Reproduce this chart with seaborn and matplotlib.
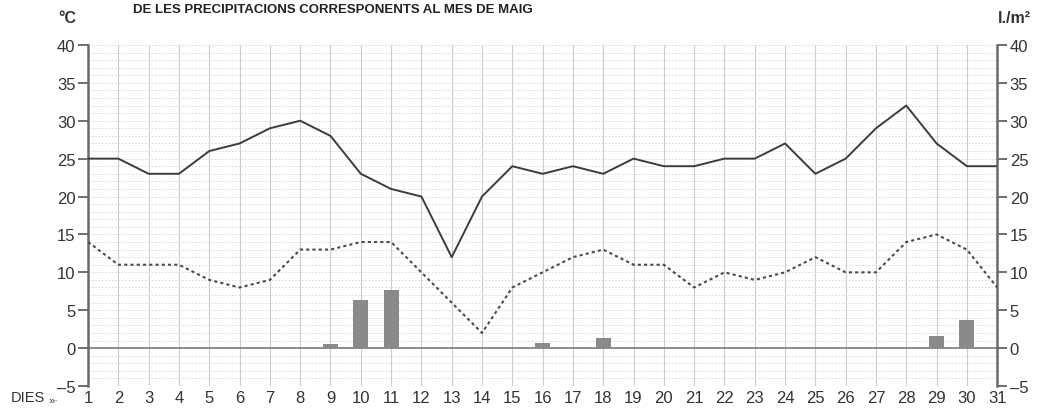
import numpy as np
import pandas as pd
import seaborn as sns
import matplotlib.pyplot as plt

# dades del mes de maig
dies = list(range(1, 32))
temp_max = [25, 25, 23, 23, 26, 27, 29, 30, 28, 23, 21, 20, 12, 20, 24, 23,
            24, 23, 25, 24, 24, 25, 25, 27, 23, 25, 29, 32, 27, 24, 24]
temp_min = [14, 11, 11, 11, 9, 8, 9, 13, 13, 14, 14, 10, 6, 2, 8, 10,
            12, 13, 11, 11, 8, 10, 9, 10, 12, 10, 10, 14, 15, 13, 8]
precip = [0, 0, 0, 0, 0, 0, 0, 0, 0.5, 6.4, 7.7, 0, 0, 0, 0, 0.7,
          0, 1.3, 0, 0, 0, 0, 0, 0, 0, 0, 0, 0, 1.6, 3.7, 0]
y_ticks = list(range(-5, 41, 5))

df = pd.DataFrame({'dia': dies, 'max': temp_max, 'min': temp_min, 'pluja': precip})

sns.set_style('white')
plt.rcParams['font.family'] = ['Liberation Sans', 'DejaVu Sans']

fig = plt.figure(figsize=(10.42, 4.10), dpi=100)
ax = fig.add_axes([0.0845, 0.056, 0.8725, 0.832])

# graella
for d in dies:
    ax.axvline(d, color='#cccccc', lw=0.8, zorder=0)
for v in range(-5, 41):
    ax.axhline(v, color='#d4d4d4', lw=0.6, ls=(0, (2, 2)), zorder=0)
ax.axhline(0, color='#7a7a7a', lw=1.2, zorder=1)

sns.barplot(data=df, x='dia', y='pluja', native_scale=True, width=0.5,
            color='#8a8a8a', saturation=1, linewidth=0, ax=ax, zorder=2)
sns.lineplot(data=df, x='dia', y='max', color='#3c3c3c', lw=1.4, ax=ax, zorder=3)
sns.lineplot(data=df, x='dia', y='min', color='#4a4a4a', lw=1.5,
             linestyle=(0, (1.5, 1.5)), ax=ax, zorder=3)

ax.set_xlim(1, 31)
ax.set_ylim(-5, 40)
ax.set_xticks(dies)
ax.set_xticklabels([str(d) for d in dies])
ax.set_yticks(y_ticks)
ax.set_yticklabels([str(v).replace('-', '\u2013') for v in y_ticks])
ax.set_xlabel('')
ax.set_ylabel('')

for s in ['top', 'bottom']:
    ax.spines[s].set_visible(False)
for s in ['left', 'right']:
    ax.spines[s].set_color('#6a6a6a')
    ax.spines[s].set_linewidth(1.8)

ax.tick_params(axis='x', length=0, pad=3, labelsize=12, colors='#333333')
ax.tick_params(axis='y', length=7, width=1.2, color='#555555', pad=2,
               labelsize=12, labelcolor='#333333', left=True, right=True,
               labelleft=True, labelright=True, direction='out')

fig.text(0.128, 0.975, 'DE LES PRECIPITACIONS CORRESPONENTS AL MES DE MAIG',
         fontsize=9.5, fontweight='bold', color='#222222', va='center', ha='left')
fig.text(0.056, 0.955, '°C', fontsize=11.5, fontweight='bold', color='#333333',
         va='center', ha='left')
fig.text(0.958, 0.955, 'l./m²', fontsize=11.5, fontweight='bold', color='#333333',
         va='center', ha='left')
fig.text(0.010, 0.030, 'DIES', fontsize=10.5, color='#333333', va='center', ha='left')
fig.text(0.047, 0.022, '»·', fontsize=8, color='#333333', va='center', ha='left')

fig.savefig('out.png', dpi=100)
